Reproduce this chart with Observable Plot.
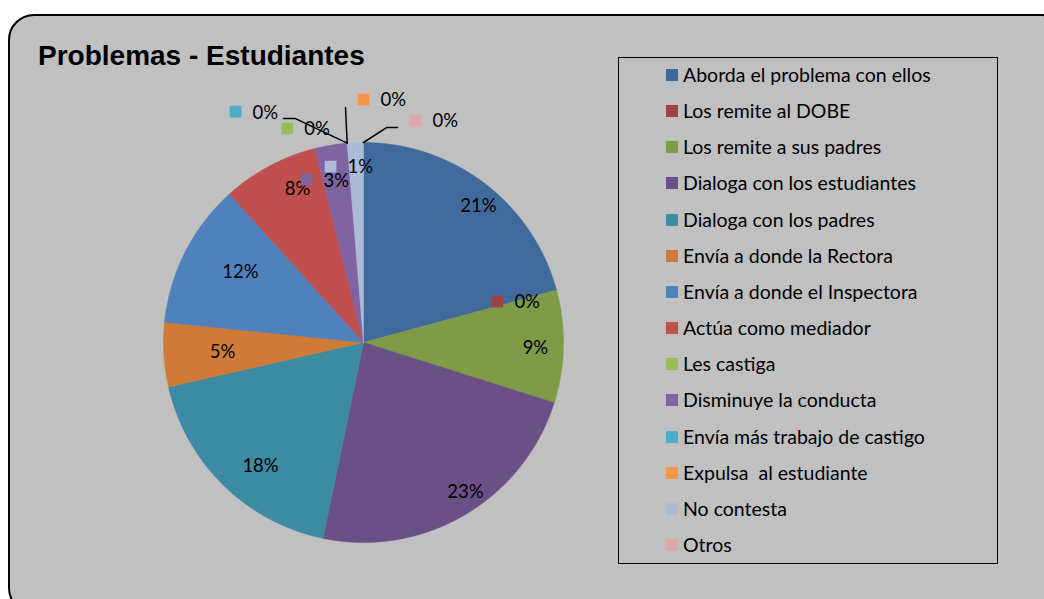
<!DOCTYPE html>
<html>
<head>
<meta charset="utf-8">
<script src="https://cdn.jsdelivr.net/npm/d3@7"></script>
<script src="https://cdn.jsdelivr.net/npm/@observablehq/plot@0.6"></script>
<style>
  html, body { margin: 0; padding: 0; background: #ffffff; width: 1044px; height: 599px; overflow: hidden; }
  #frame { position: absolute; left: 8px; top: 14px; width: 1060px; height: 600px; border: 2px solid #000; border-radius: 26px; background: #c0c0c0; box-sizing: border-box; }
  #title { position: absolute; left: 38px; top: 42px; font: bold 28px/28px "Liberation Sans", Arial, sans-serif; color: #000; white-space: nowrap; }
  #chart { position: absolute; left: 0; top: 0; }
  #legendbox { position: absolute; left: 618px; top: 57px; width: 380px; height: 507px; border: 1.5px solid #000; box-sizing: border-box; }
  .item { position: absolute; left: 666px; height: 22px; display: flex; align-items: center; font: 19.5px/22px Lato, sans-serif; color: #000; white-space: pre; }
  .key { width: 12px; height: 12px; margin-right: 5px; flex: none; }
</style>
</head>
<body>
<div id="frame"></div>
<div id="title">Problemas - Estudiantes</div>
<div id="chart"></div>
<div id="legendbox"></div>
<script>
// ---- data ----
const categories = [
  "Aborda el problema con ellos",
  "Los remite al DOBE",
  "Los remite a sus padres",
  "Dialoga con los estudiantes",
  "Dialoga con los padres",
  "Envía a donde la Rectora",
  "Envía a donde el Inspectora",
  "Actúa como mediador",
  "Les castiga",
  "Disminuye la conducta",
  "Envía más trabajo de castigo",
  "Expulsa  al estudiante",
  "No contesta",
  "Otros"
];
const counts = [16, 0, 7, 18, 14, 4, 9, 6, 0, 2, 0, 0, 1, 0];
const colors = [
  "#416a9c", "#a04240", "#7e9b48", "#6a5087", "#3c8ba3", "#cf7b37", "#4f81bd",
  "#c0504d", "#9bbb59", "#8064a2", "#4bacc6", "#f79646", "#aabad7", "#dba9a8"
];

// ---- layout (label placement, not data) ----
const R = 200, CX = 363, CY = 342;
const labelRadius = [0.89, 0.70, 0.86, 0.907, 0.806, 0.707, 0.708, 0.833, 1.136, 0.863, 1.32, 1.215, 0.895, 1.14];
const labelAngle  = [40.2, 73, 91.7, 145.8, 219.7, 266, 299.7, 336.7, 340.4, 340.7, 331, 0, 349.4, 13.2];
const showKey     = [false, true, false, false, false, false, false, false, true, true, true, true, true, true];
// leader line bends, offsets in px from the label key
const leaderBends = { 10: [[48, 7], [60, 7]], 11: [[-18, 8]], 13: [[-18, 7], [-29, 7]] };

const total = d3.sum(counts);
const rows = categories.map((cat, i) => ({cat, count: counts[i], i}));
const arcs = d3.pie().sort(null).value(d => d.count)(rows);

// slice polygons
const slicePts = [];
for (const a of arcs) {
  if (a.data.count <= 0) continue;
  const n = Math.max(2, Math.ceil((a.endAngle - a.startAngle) / (Math.PI / 360)));
  slicePts.push({cat: a.data.cat, x: 0, y: 0});
  for (let k = 0; k <= n; k++) {
    const t = a.startAngle + (a.endAngle - a.startAngle) * k / n;
    slicePts.push({cat: a.data.cat, x: Math.sin(t), y: -Math.cos(t)});
  }
  slicePts.push({cat: a.data.cat, x: 0, y: 0});
}

// labels
const labels = arcs.map(a => {
  const i = a.data.i;
  const ang = labelAngle[i] * Math.PI / 180;
  return {
    cat: a.data.cat, i,
    x: labelRadius[i] * Math.sin(ang),
    y: -labelRadius[i] * Math.cos(ang),
    text: Math.round(a.data.count / total * 100) + "%",
    key: showKey[i],
    edge: a.startAngle
  };
});

// leader lines
const leaderPts = [];
for (const l of labels) {
  const bends = leaderBends[l.i];
  if (!bends) continue;
  for (const [dx, dy] of bends) leaderPts.push({cat: l.cat, x: l.x + dx / R, y: l.y + dy / R});
  leaderPts.push({cat: l.cat, x: Math.sin(l.edge), y: -Math.cos(l.edge)});
}

const chart = Plot.plot({
  width: 1044,
  height: 599,
  margin: 0,
  x: {domain: [-1, 1], range: [CX - R, CX + R], axis: null},
  y: {domain: [-1, 1], range: [CY - R, CY + R], axis: null},
  color: {domain: categories, range: colors},
  style: {background: "transparent", fontFamily: "Lato, sans-serif", fontSize: "18px", color: "#000", overflow: "visible"},
  marks: [
    Plot.line(slicePts, {x: "x", y: "y", z: "cat", fill: "cat", stroke: "cat", strokeWidth: 0.5, curve: "linear"}),
    Plot.line(leaderPts, {x: "x", y: "y", z: "cat", stroke: "#000", strokeWidth: 1.5, curve: "linear"}),
    Plot.text(labels.filter(d => !d.key), {x: "x", y: "y", text: "text", fill: "#000", textAnchor: "middle", fontSize: 18.5}),
    Plot.dot(labels.filter(d => d.key), {x: "x", y: "y", symbol: "square", r: 6.6, fill: "cat", stroke: null}),
    Plot.text(labels.filter(d => d.key), {x: "x", y: "y", text: "text", fill: "#000", textAnchor: "start", dx: 17, dy: 1, fontSize: 18.5})
  ]
});
document.getElementById("chart").appendChild(chart);

// legend
const legendTop = 75, legendStep = 36.15;
categories.forEach((cat, i) => {
  const item = document.createElement("div");
  item.className = "item";
  item.style.top = (legendTop + i * legendStep - 11) + "px";
  const key = document.createElement("span");
  key.className = "key";
  key.style.background = colors[i];
  const txt = document.createElement("span");
  txt.textContent = cat;
  item.appendChild(key);
  item.appendChild(txt);
  document.body.appendChild(item);
});
</script>
</body>
</html>
